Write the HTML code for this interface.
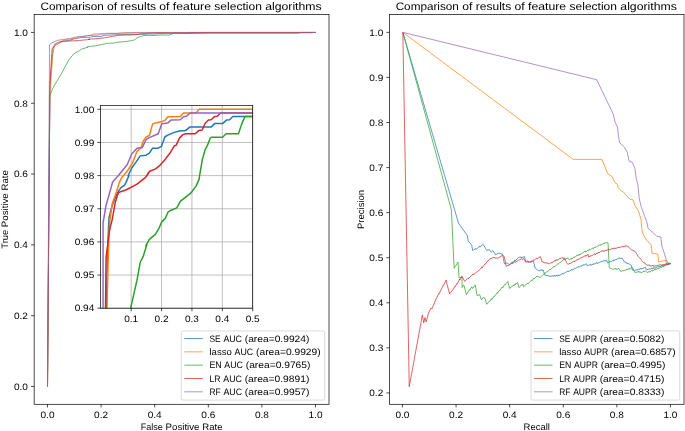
<!DOCTYPE html>
<html><head><meta charset="utf-8"><title>Comparison of results of feature selection algorithms</title>
<style>html,body{margin:0;padding:0;background:#fff}svg{display:block;will-change:transform}text{text-rendering:geometricPrecision;font-family:"Liberation Sans",sans-serif;fill:#000}</style></head><body>
<svg width="685" height="431" viewBox="0 0 685 431">
<rect x="0" y="0" width="685" height="431" fill="#fff"/>
<defs><clipPath id="ci"><rect x="100.50" y="105.60" width="152.20" height="202.60"/></clipPath></defs>
<path d="M47.50 386.50 L49.91 85.56 L52.62 53.60 L53.24 48.26 L54.49 44.57 L54.80 44.00 L57.61 42.69 L60.73 41.76 L63.07 41.19 L65.41 40.82 L68.53 40.54 L69.77 40.26 L72.42 39.51 L71.64 39.52 L74.76 38.72 L78.66 38.06 L82.25 37.42 L87.55 37.35 L90.36 37.12 L93.17 36.60 L98.16 36.60 L100.97 36.41 L104.08 35.38 L107.52 35.16 L112.19 34.91 L116.87 34.76 L122.33 34.73 L125.92 34.35 L144.79 34.35 L147.91 33.98 L154.93 33.98 L158.36 33.60 L161.17 33.56 L163.97 33.23 L181.44 33.23 L194.90 33.23 L208.30 32.45 L315.50 32.45" fill="none" stroke="#1f77b4" stroke-width="0.90" stroke-opacity="0.80" stroke-linejoin="round"/>
<path d="M47.50 386.50 L49.91 92.64 L52.93 53.60 L54.49 46.39 L55.27 44.57 L57.61 42.51 L61.51 41.19 L63.85 40.26 L66.19 39.70 L70.09 39.17 L71.64 38.90 L75.54 38.15 L79.44 36.94 L82.87 36.60 L84.90 35.85 L87.55 35.40 L90.36 35.25 L93.17 34.03 L95.82 33.90 L100.97 33.79 L104.40 33.60 L106.74 33.25 L110.63 33.25 L117.65 33.23 L120.46 32.85 L124.67 32.85 L131.69 32.82 L134.34 32.44 L181.44 32.44 L315.50 32.45" fill="none" stroke="#ff7f0e" stroke-width="0.90" stroke-opacity="0.80" stroke-linejoin="round"/>
<path d="M47.50 386.50 L49.70 96.18 L52.86 88.04 L61.70 73.17 L68.78 59.85 L73.98 53.60 L79.44 50.70 L82.25 48.79 L84.90 48.17 L88.02 46.95 L87.24 47.02 L90.36 46.35 L95.82 45.78 L98.94 45.13 L101.28 44.47 L104.40 44.10 L106.74 43.44 L109.08 43.26 L114.53 42.97 L117.65 42.28 L127.01 41.38 L131.69 40.63 L134.34 39.88 L134.65 39.52 L136.99 37.87 L139.33 36.84 L141.67 36.28 L144.01 35.53 L145.10 35.44 L154.93 35.44 L158.05 35.06 L168.96 35.06 L171.77 34.03 L174.73 33.23 L181.44 33.23 L298.08 33.23 L300.76 32.45 L315.50 32.45" fill="none" stroke="#2ca02c" stroke-width="0.90" stroke-opacity="0.80" stroke-linejoin="round"/>
<path d="M47.50 386.50 L49.91 85.56 L51.68 53.60 L52.15 48.26 L54.18 46.39 L55.27 45.32 L57.61 44.19 L60.42 42.32 L63.07 41.34 L70.09 41.04 L79.44 40.45 L87.24 39.70 L90.05 39.17 L88.02 39.52 L90.36 39.09 L95.82 38.81 L99.72 38.44 L104.40 37.78 L109.08 37.03 L112.19 36.37 L114.07 36.28 L116.87 35.53 L119.99 35.16 L122.33 35.06 L130.75 35.06 L133.87 34.73 L136.99 34.65 L139.64 33.94 L142.45 33.60 L144.79 33.56 L147.91 33.23 L150.25 33.19 L153.06 32.85 L181.44 32.85 L186.86 32.84 L189.54 32.45 L315.50 32.45" fill="none" stroke="#d62728" stroke-width="0.90" stroke-opacity="0.80" stroke-linejoin="round"/>
<path d="M47.50 386.50 L49.50 53.60 L49.50 44.57 L52.15 42.69 L55.27 41.38 L57.92 40.22 L63.07 39.52 L70.87 38.34 L74.76 37.22 L79.44 36.60 L84.12 36.52 L87.55 35.66 L90.36 35.48 L98.16 35.06 L101.28 34.00 L106.74 33.90 L109.39 33.60 L117.65 33.56 L120.46 33.25 L123.11 33.19 L126.23 32.85 L181.44 32.85 L311.48 32.84 L312.82 32.45 L315.50 32.45" fill="none" stroke="#9467bd" stroke-width="0.90" stroke-opacity="0.80" stroke-linejoin="round"/>
<rect x="34.15" y="14.60" width="294.85" height="389.70" fill="none" stroke="#000" stroke-width="0.70"/>
<line x1="47.50" y1="404.30" x2="47.50" y2="407.40" stroke="#000" stroke-width="0.7"/>
<text y="418.20" font-size="9.30"><tspan x="40.50" textLength="14.00" lengthAdjust="spacingAndGlyphs">0.0</tspan></text>
<line x1="101.10" y1="404.30" x2="101.10" y2="407.40" stroke="#000" stroke-width="0.7"/>
<text y="418.20" font-size="9.30"><tspan x="94.10" textLength="14.00" lengthAdjust="spacingAndGlyphs">0.2</tspan></text>
<line x1="154.70" y1="404.30" x2="154.70" y2="407.40" stroke="#000" stroke-width="0.7"/>
<text y="418.20" font-size="9.30"><tspan x="147.70" textLength="14.00" lengthAdjust="spacingAndGlyphs">0.4</tspan></text>
<line x1="208.30" y1="404.30" x2="208.30" y2="407.40" stroke="#000" stroke-width="0.7"/>
<text y="418.20" font-size="9.30"><tspan x="201.30" textLength="14.00" lengthAdjust="spacingAndGlyphs">0.6</tspan></text>
<line x1="261.90" y1="404.30" x2="261.90" y2="407.40" stroke="#000" stroke-width="0.7"/>
<text y="418.20" font-size="9.30"><tspan x="254.90" textLength="14.00" lengthAdjust="spacingAndGlyphs">0.8</tspan></text>
<line x1="315.50" y1="404.30" x2="315.50" y2="407.40" stroke="#000" stroke-width="0.7"/>
<text y="418.20" font-size="9.30"><tspan x="308.50" textLength="14.00" lengthAdjust="spacingAndGlyphs">1.0</tspan></text>
<line x1="31.05" y1="386.50" x2="34.15" y2="386.50" stroke="#000" stroke-width="0.7"/>
<text y="389.75" font-size="9.30"><tspan x="13.95" textLength="14.00" lengthAdjust="spacingAndGlyphs">0.0</tspan></text>
<line x1="31.05" y1="315.69" x2="34.15" y2="315.69" stroke="#000" stroke-width="0.7"/>
<text y="318.94" font-size="9.30"><tspan x="13.95" textLength="14.00" lengthAdjust="spacingAndGlyphs">0.2</tspan></text>
<line x1="31.05" y1="244.88" x2="34.15" y2="244.88" stroke="#000" stroke-width="0.7"/>
<text y="248.13" font-size="9.30"><tspan x="13.95" textLength="14.00" lengthAdjust="spacingAndGlyphs">0.4</tspan></text>
<line x1="31.05" y1="174.07" x2="34.15" y2="174.07" stroke="#000" stroke-width="0.7"/>
<text y="177.32" font-size="9.30"><tspan x="13.95" textLength="14.00" lengthAdjust="spacingAndGlyphs">0.6</tspan></text>
<line x1="31.05" y1="103.26" x2="34.15" y2="103.26" stroke="#000" stroke-width="0.7"/>
<text y="106.51" font-size="9.30"><tspan x="13.95" textLength="14.00" lengthAdjust="spacingAndGlyphs">0.8</tspan></text>
<line x1="31.05" y1="32.45" x2="34.15" y2="32.45" stroke="#000" stroke-width="0.7"/>
<text y="35.70" font-size="9.30"><tspan x="13.95" textLength="14.00" lengthAdjust="spacingAndGlyphs">1.0</tspan></text>
<text y="9.50" font-size="10.90"><tspan x="40.50" textLength="63.23" lengthAdjust="spacingAndGlyphs">Comparison</tspan> <tspan x="107.08" textLength="10.18" lengthAdjust="spacingAndGlyphs">of</tspan> <tspan x="120.62" textLength="35.38" lengthAdjust="spacingAndGlyphs">results</tspan> <tspan x="159.35" textLength="10.18" lengthAdjust="spacingAndGlyphs">of</tspan> <tspan x="172.88" textLength="38.13" lengthAdjust="spacingAndGlyphs">feature</tspan> <tspan x="214.37" textLength="47.46" lengthAdjust="spacingAndGlyphs">selection</tspan> <tspan x="265.19" textLength="56.47" lengthAdjust="spacingAndGlyphs">algorithms</tspan></text>
<text y="430.00" font-size="9.30"><tspan x="140.68" textLength="22.09" lengthAdjust="spacingAndGlyphs">False</tspan> <tspan x="165.57" textLength="33.92" lengthAdjust="spacingAndGlyphs">Positive</tspan> <tspan x="202.29" textLength="20.18" lengthAdjust="spacingAndGlyphs">Rate</tspan></text>
<text y="209.45" font-size="9.30" transform="rotate(-90 8.10 209.45)"><tspan x="-31.09" textLength="18.69" lengthAdjust="spacingAndGlyphs">True</tspan> <tspan x="-9.61" textLength="33.92" lengthAdjust="spacingAndGlyphs">Positive</tspan> <tspan x="27.12" textLength="20.18" lengthAdjust="spacingAndGlyphs">Rate</tspan></text>
<rect x="100.50" y="105.60" width="152.20" height="202.60" fill="#fff"/>
<line x1="131.18" y1="105.60" x2="131.18" y2="308.20" stroke="#b0b0b0" stroke-width="0.8"/>
<line x1="161.55" y1="105.60" x2="161.55" y2="308.20" stroke="#b0b0b0" stroke-width="0.8"/>
<line x1="191.93" y1="105.60" x2="191.93" y2="308.20" stroke="#b0b0b0" stroke-width="0.8"/>
<line x1="222.30" y1="105.60" x2="222.30" y2="308.20" stroke="#b0b0b0" stroke-width="0.8"/>
<line x1="252.68" y1="105.60" x2="252.68" y2="308.20" stroke="#b0b0b0" stroke-width="0.8"/>
<line x1="100.50" y1="109.30" x2="252.70" y2="109.30" stroke="#b0b0b0" stroke-width="0.8"/>
<line x1="100.50" y1="142.45" x2="252.70" y2="142.45" stroke="#b0b0b0" stroke-width="0.8"/>
<line x1="100.50" y1="175.60" x2="252.70" y2="175.60" stroke="#b0b0b0" stroke-width="0.8"/>
<line x1="100.50" y1="208.75" x2="252.70" y2="208.75" stroke="#b0b0b0" stroke-width="0.8"/>
<line x1="100.50" y1="241.90" x2="252.70" y2="241.90" stroke="#b0b0b0" stroke-width="0.8"/>
<line x1="100.50" y1="275.05" x2="252.70" y2="275.05" stroke="#b0b0b0" stroke-width="0.8"/>
<line x1="100.50" y1="308.20" x2="252.70" y2="308.20" stroke="#b0b0b0" stroke-width="0.8"/>
<g clip-path="url(#ci)">
<path d="M100.80 3424.30 L103.53 606.55 L106.60 307.35 L107.31 257.35 L108.72 222.75 L109.08 217.49 L112.26 205.21 L115.79 196.44 L118.44 191.17 L121.10 187.67 L124.63 185.04 L126.04 182.40 L129.05 175.39 L128.17 175.52 L131.70 167.98 L136.12 161.84 L140.19 155.87 L146.20 155.17 L149.38 153.07 L152.56 148.15 L158.22 148.15 L161.40 146.40 L164.93 136.75 L168.82 134.65 L174.12 132.37 L179.43 130.96 L185.61 130.61 L189.68 127.10 L211.07 127.10 L214.60 123.60 L222.56 123.60 L226.45 120.09 L229.63 119.74 L232.81 116.58 L252.61 116.58 L267.86 116.59 L283.05 109.30 L404.55 109.30" fill="none" stroke="#1f77b4" stroke-width="1.5" stroke-linejoin="round"/>
<path d="M100.80 3424.30 L103.53 672.85 L106.95 307.35 L108.72 239.81 L109.61 222.75 L112.26 203.45 L116.68 191.17 L119.33 182.40 L121.98 177.14 L126.40 172.23 L128.17 169.73 L132.58 162.71 L137.00 151.31 L140.89 148.15 L143.19 141.14 L146.20 136.93 L149.38 135.52 L152.56 124.12 L155.56 122.89 L161.40 121.84 L165.29 120.09 L167.94 116.75 L172.36 116.75 L180.31 116.58 L183.49 113.07 L188.27 113.07 L196.22 112.72 L199.23 109.21 L252.61 109.21 L404.55 109.30" fill="none" stroke="#ff7f0e" stroke-width="1.5" stroke-linejoin="round"/>
<path d="M100.80 3424.30 L103.29 706.00 L106.88 629.75 L116.90 490.52 L124.92 365.88 L130.82 307.35 L137.00 280.16 L140.19 262.26 L143.19 256.47 L146.73 245.07 L145.84 245.73 L149.38 239.41 L155.56 234.15 L159.10 228.01 L161.75 221.87 L165.29 218.36 L167.94 212.23 L170.59 210.47 L176.78 207.84 L180.31 201.35 L190.92 192.93 L196.22 185.91 L199.23 178.90 L199.58 175.52 L202.23 160.08 L204.88 150.43 L207.53 145.17 L210.18 138.15 L211.42 137.28 L222.56 137.28 L226.09 133.77 L238.47 133.77 L241.65 124.12 L245.01 116.58 L252.61 116.58 L384.81 116.59 L387.84 109.30 L404.55 109.30" fill="none" stroke="#2ca02c" stroke-width="1.5" stroke-linejoin="round"/>
<path d="M100.80 3424.30 L103.53 606.55 L105.54 307.35 L106.07 257.35 L108.37 239.81 L109.61 229.77 L112.26 219.24 L115.44 201.70 L118.44 192.58 L126.40 189.77 L137.00 184.16 L145.84 177.14 L149.02 172.23 L146.73 175.52 L149.38 171.48 L155.56 168.85 L159.98 165.34 L165.29 159.21 L170.59 152.19 L174.12 146.05 L176.25 145.17 L179.43 138.15 L182.96 134.65 L185.61 133.77 L195.16 133.77 L198.69 130.61 L202.23 129.91 L205.23 123.24 L208.42 120.09 L211.07 119.74 L214.60 116.58 L217.25 116.23 L220.44 113.07 L252.61 113.07 L258.75 112.95 L261.79 109.30 L404.55 109.30" fill="none" stroke="#d62728" stroke-width="1.5" stroke-linejoin="round"/>
<path d="M100.80 3424.30 L103.07 307.35 L103.07 222.75 L106.07 205.21 L109.61 192.93 L112.61 182.05 L118.44 175.52 L127.28 164.47 L131.70 153.94 L137.00 148.15 L142.31 147.45 L146.20 139.38 L149.38 137.63 L158.22 133.77 L161.75 123.77 L167.94 122.89 L170.94 120.09 L180.31 119.74 L183.49 116.75 L186.50 116.23 L190.03 113.07 L252.61 113.07 L399.99 112.95 L401.51 109.30 L404.55 109.30" fill="none" stroke="#9467bd" stroke-width="1.5" stroke-linejoin="round"/>
</g>
<rect x="100.50" y="105.60" width="152.20" height="202.60" fill="none" stroke="#000" stroke-width="0.70"/>
<line x1="131.18" y1="308.20" x2="131.18" y2="311.30" stroke="#000" stroke-width="0.7"/>
<text y="321.90" font-size="9.30"><tspan x="124.18" textLength="14.00" lengthAdjust="spacingAndGlyphs">0.1</tspan></text>
<line x1="161.55" y1="308.20" x2="161.55" y2="311.30" stroke="#000" stroke-width="0.7"/>
<text y="321.90" font-size="9.30"><tspan x="154.55" textLength="14.00" lengthAdjust="spacingAndGlyphs">0.2</tspan></text>
<line x1="191.93" y1="308.20" x2="191.93" y2="311.30" stroke="#000" stroke-width="0.7"/>
<text y="321.90" font-size="9.30"><tspan x="184.93" textLength="14.00" lengthAdjust="spacingAndGlyphs">0.3</tspan></text>
<line x1="222.30" y1="308.20" x2="222.30" y2="311.30" stroke="#000" stroke-width="0.7"/>
<text y="321.90" font-size="9.30"><tspan x="215.30" textLength="14.00" lengthAdjust="spacingAndGlyphs">0.4</tspan></text>
<line x1="252.68" y1="308.20" x2="252.68" y2="311.30" stroke="#000" stroke-width="0.7"/>
<text y="321.90" font-size="9.30"><tspan x="245.68" textLength="14.00" lengthAdjust="spacingAndGlyphs">0.5</tspan></text>
<line x1="97.40" y1="109.30" x2="100.50" y2="109.30" stroke="#000" stroke-width="0.7"/>
<text y="112.55" font-size="9.30"><tspan x="74.71" textLength="19.59" lengthAdjust="spacingAndGlyphs">1.00</tspan></text>
<line x1="97.40" y1="142.45" x2="100.50" y2="142.45" stroke="#000" stroke-width="0.7"/>
<text y="145.70" font-size="9.30"><tspan x="74.71" textLength="19.59" lengthAdjust="spacingAndGlyphs">0.99</tspan></text>
<line x1="97.40" y1="175.60" x2="100.50" y2="175.60" stroke="#000" stroke-width="0.7"/>
<text y="178.85" font-size="9.30"><tspan x="74.71" textLength="19.59" lengthAdjust="spacingAndGlyphs">0.98</tspan></text>
<line x1="97.40" y1="208.75" x2="100.50" y2="208.75" stroke="#000" stroke-width="0.7"/>
<text y="212.00" font-size="9.30"><tspan x="74.71" textLength="19.59" lengthAdjust="spacingAndGlyphs">0.97</tspan></text>
<line x1="97.40" y1="241.90" x2="100.50" y2="241.90" stroke="#000" stroke-width="0.7"/>
<text y="245.15" font-size="9.30"><tspan x="74.71" textLength="19.59" lengthAdjust="spacingAndGlyphs">0.96</tspan></text>
<line x1="97.40" y1="275.05" x2="100.50" y2="275.05" stroke="#000" stroke-width="0.7"/>
<text y="278.30" font-size="9.30"><tspan x="74.71" textLength="19.59" lengthAdjust="spacingAndGlyphs">0.95</tspan></text>
<line x1="97.40" y1="308.20" x2="100.50" y2="308.20" stroke="#000" stroke-width="0.7"/>
<text y="311.45" font-size="9.30"><tspan x="74.71" textLength="19.59" lengthAdjust="spacingAndGlyphs">0.94</tspan></text>
<path d="M402.84 32.35 L458.52 223.21 L467.33 235.54 L468.21 240.83 L471.73 245.23 L472.61 250.52 L475.67 248.56 L475.82 249.52 L477.90 247.88 L479.66 246.31 L479.81 247.19 L483.19 244.35 L485.37 247.94 L485.52 248.45 L486.71 250.52 L489.35 249.64 L491.11 252.28 L492.88 250.52 L495.52 254.93 L498.16 253.16 L500.27 253.28 L500.42 253.96 L502.57 254.04 L504.33 263.74 L506.97 262.86 L509.62 264.62 L512.38 261.93 L512.53 263.00 L514.97 259.89 L515.12 260.88 L518.43 257.57 L520.72 256.88 L520.87 257.68 L524.60 256.69 L525.48 261.09 L528.09 261.07 L528.24 261.95 L531.64 261.97 L533.41 261.09 L535.17 268.14 L538.69 270.78 L541.94 269.78 L542.09 270.57 L543.10 269.90 L544.86 275.19 L548.06 275.49 L548.21 276.05 L551.03 276.25 L553.44 275.68 L553.59 276.29 L555.07 275.35 L555.22 276.27 L557.04 275.07 L557.19 276.08 L558.80 274.85 L558.95 275.88 L559.84 275.19 L562.98 273.34 L563.13 274.08 L565.30 272.55 L568.29 270.98 L568.44 271.70 L571.99 269.42 L572.14 270.17 L574.60 268.45 L574.75 268.95 L575.87 268.14 L579.11 266.53 L579.26 267.11 L581.26 265.64 L581.41 266.21 L583.59 264.56 L583.74 265.37 L586.45 263.74 L587.33 265.85 L590.71 264.37 L590.86 265.46 L593.33 263.79 L593.48 264.46 L597.03 262.59 L597.18 263.52 L600.54 261.97 L604.66 260.46 L604.81 261.21 L606.71 260.21 L607.59 262.86 L610.72 261.24 L610.87 261.93 L613.50 259.92 L613.65 260.97 L615.77 259.25 L615.92 259.69 L618.16 258.45 L619.97 257.93 L620.12 258.72 L622.04 258.10 L624.33 261.97 L626.31 262.40 L626.46 263.22 L628.74 263.74 L631.38 265.50 L632.26 269.90 L634.90 270.43 L636.53 269.74 L636.68 270.20 L639.15 268.85 L639.30 269.53 L641.01 268.28 L641.16 268.99 L645.48 267.26 L646.36 269.90 L649.95 268.74 L650.10 269.20 L652.52 267.83 L652.67 268.79 L654.24 267.47 L654.39 268.21 L658.24 266.51 L658.39 267.02 L659.85 266.08 L660.00 266.59 L662.66 265.30 L662.81 265.89 L666.56 264.30 L666.71 264.80 L670.60 263.45" fill="none" stroke="#1f77b4" stroke-width="0.90" stroke-opacity="0.80" stroke-linejoin="round"/>
<path d="M402.84 32.35 L573.23 159.37 L601.95 159.37 L607.59 173.47 L612.52 177.00 L614.64 182.28 L617.28 184.04 L618.16 187.57 L621.34 191.09 L623.45 191.97 L626.97 196.38 L630.50 199.37 L633.14 199.90 L634.90 205.59 L638.43 210.87 L641.07 219.68 L641.95 230.26 L643.71 235.54 L646.71 240.48 L651.11 244.35 L652.00 253.16 L657.81 254.04 L658.69 261.97 L665.74 260.21 L666.09 263.38 L670.60 263.45" fill="none" stroke="#ff7f0e" stroke-width="0.90" stroke-opacity="0.80" stroke-linejoin="round"/>
<path d="M402.84 32.35 L451.38 209.68 L454.11 268.23 L457.99 262.06 L459.04 277.92 L462.04 277.04 L462.04 287.61 L463.80 284.97 L466.45 294.66 L469.74 289.50 L469.89 290.00 L471.73 286.73 L472.61 288.49 L475.26 284.97 L477.02 295.54 L479.66 294.66 L481.42 299.95 L483.19 297.30 L484.95 298.19 L486.71 304.35 L489.51 301.08 L489.66 301.62 L491.69 298.47 L491.84 299.55 L494.29 295.93 L494.44 296.41 L497.40 292.40 L497.55 293.23 L499.41 290.28 L499.56 290.97 L502.43 286.88 L502.58 287.87 L504.87 284.43 L505.02 284.99 L507.86 281.45 L509.62 288.49 L513.44 285.09 L513.59 286.05 L515.35 283.58 L515.50 284.58 L517.55 282.33 L518.96 287.61 L521.76 284.83 L521.91 285.35 L522.83 284.09 L523.71 286.73 L527.72 283.12 L527.87 284.02 L531.83 279.78 L531.98 280.79 L533.77 278.45 L533.92 278.98 L536.93 276.16 L540.45 277.57 L543.10 274.40 L545.16 272.58 L545.31 273.37 L547.67 270.93 L547.82 271.47 L550.01 269.14 L550.16 269.97 L554.01 266.28 L554.16 267.19 L557.80 263.82 L557.95 264.25 L560.39 261.99 L560.54 262.43 L564.08 259.11 L564.23 260.15 L565.21 258.78 L567.86 258.25 L569.62 259.66 L571.58 258.18 L571.73 259.14 L574.15 256.83 L574.30 257.75 L577.39 255.04 L577.54 256.09 L579.35 253.98 L579.50 255.07 L582.83 252.61 L585.35 251.09 L585.50 252.03 L587.95 250.19 L588.10 250.59 L589.68 249.13 L589.83 250.21 L592.87 247.87 L593.02 248.65 L595.35 246.86 L595.50 247.47 L596.93 246.45 L600.49 244.55 L600.64 245.29 L604.27 242.81 L604.42 243.71 L605.74 242.57 L608.03 242.92 L609.26 267.59 L612.79 269.35 L616.01 268.48 L616.16 269.40 L618.96 268.47 L620.72 271.47 L623.47 270.39 L623.62 270.87 L627.30 269.19 L627.45 269.69 L629.26 268.34 L629.41 269.37 L631.38 268.14 L632.26 267.26 L634.90 272.55 L638.97 271.54 L639.12 272.27 L640.19 271.67 L641.07 272.90 L643.91 271.22 L644.06 271.92 L645.48 270.78 L647.24 272.55 L649.16 271.41 L649.31 272.27 L652.18 270.23 L652.33 271.10 L655.48 268.90 L655.63 269.87 L658.22 267.83 L658.37 268.81 L661.11 266.80 L661.26 267.57 L663.11 265.92 L663.26 266.91 L665.23 265.29 L665.38 265.85 L668.30 264.05 L668.45 264.70 L670.60 263.45" fill="none" stroke="#2ca02c" stroke-width="0.90" stroke-opacity="0.80" stroke-linejoin="round"/>
<path d="M402.84 32.35 L409.26 386.69 L421.42 320.21 L422.30 314.93 L423.71 322.86 L424.95 317.57 L426.18 321.97 L428.47 313.16 L431.11 307.88 L432.00 308.76 L436.40 298.19 L439.08 293.09 L439.23 293.51 L441.69 288.49 L443.42 284.94 L443.57 285.45 L446.09 280.04 L446.97 284.09 L449.62 293.78 L453.14 289.37 L454.99 286.42 L455.14 286.83 L456.82 283.62 L456.97 284.15 L459.72 279.04 L459.87 280.08 L461.95 276.16 L464.60 281.45 L468.26 277.93 L468.41 278.61 L471.64 275.28 L473.34 273.94 L473.49 274.66 L476.05 272.63 L480.45 269.11 L482.16 266.79 L482.31 267.78 L485.19 263.69 L485.34 264.17 L487.38 261.32 L487.53 261.73 L489.35 259.33 L491.33 258.13 L491.48 258.60 L492.88 257.57 L494.53 257.45 L494.68 258.09 L498.16 258.10 L502.57 255.28 L504.33 256.69 L506.09 266.38 L508.44 265.03 L508.59 265.43 L512.09 262.95 L512.24 263.91 L515.14 261.43 L515.29 262.37 L518.43 260.21 L521.98 258.70 L522.13 259.43 L523.71 258.45 L525.48 261.97 L529.88 261.97 L531.52 260.84 L531.67 261.54 L533.61 259.88 L533.76 260.39 L536.93 258.02 L537.08 258.98 L539.45 256.90 L539.60 257.54 L540.45 256.69 L542.22 261.97 L544.09 262.14 L544.24 262.81 L547.93 263.03 L548.08 263.86 L549.26 263.74 L551.45 262.44 L551.60 262.89 L555.44 260.19 L555.59 261.21 L557.07 259.38 L557.22 260.38 L559.84 258.45 L563.31 257.65 L563.46 258.48 L564.33 257.90 L566.97 263.19 L567.86 264.42 L570.34 263.00 L570.49 263.42 L574.13 260.89 L574.28 261.83 L577.48 259.37 L577.63 259.99 L581.47 257.37 L581.62 258.03 L583.40 256.48 L583.55 257.00 L585.41 255.22 L585.56 256.32 L588.12 254.37 L588.47 257.02 L591.30 255.57 L591.45 256.02 L595.03 253.68 L595.18 254.67 L597.32 252.81 L597.47 253.49 L599.00 252.04 L599.15 252.77 L600.45 251.73 L603.36 250.55 L603.51 251.56 L606.21 250.01 L606.36 250.63 L608.87 249.25 L609.02 250.09 L611.03 249.09 L613.22 248.29 L613.37 249.05 L615.10 247.85 L615.25 248.72 L618.79 247.10 L618.94 247.92 L622.82 246.29 L622.97 247.04 L625.76 245.71 L625.91 246.40 L626.97 245.76 L629.26 247.59 L629.41 248.00 L631.38 249.64 L634.67 251.35 L634.82 251.94 L635.78 252.28 L638.43 256.69 L641.15 259.48 L641.30 260.53 L642.83 261.97 L645.19 263.34 L645.34 264.08 L647.24 265.15 L649.72 265.14 L649.87 266.03 L651.64 265.85 L653.25 265.26 L653.40 266.34 L656.93 265.50 L660.86 264.68 L661.01 265.19 L664.34 264.15 L664.49 264.68 L666.78 263.61 L666.93 264.52 L668.94 263.31 L669.09 264.17 L670.60 263.45" fill="none" stroke="#d62728" stroke-width="0.90" stroke-opacity="0.80" stroke-linejoin="round"/>
<path d="M402.84 32.35 L596.67 79.68 L613.23 114.04 L614.99 121.97 L617.46 126.91 L618.52 136.25 L619.57 142.63 L624.33 147.04 L627.33 152.33 L629.09 161.14 L632.26 162.37 L634.90 168.19 L636.14 177.88 L637.90 184.93 L639.31 199.02 L641.42 207.35 L644.60 216.16 L646.71 221.45 L648.12 228.49 L653.41 232.90 L656.93 236.42 L660.81 236.95 L661.86 246.11 L663.98 252.28 L666.09 259.33 L667.50 262.86 L670.60 263.45" fill="none" stroke="#9467bd" stroke-width="0.90" stroke-opacity="0.80" stroke-linejoin="round"/>
<rect x="389.45" y="14.60" width="294.55" height="389.70" fill="none" stroke="#000" stroke-width="0.70"/>
<line x1="402.45" y1="404.30" x2="402.45" y2="407.40" stroke="#000" stroke-width="0.7"/>
<text y="418.20" font-size="9.30"><tspan x="395.45" textLength="14.00" lengthAdjust="spacingAndGlyphs">0.0</tspan></text>
<line x1="456.05" y1="404.30" x2="456.05" y2="407.40" stroke="#000" stroke-width="0.7"/>
<text y="418.20" font-size="9.30"><tspan x="449.05" textLength="14.00" lengthAdjust="spacingAndGlyphs">0.2</tspan></text>
<line x1="509.65" y1="404.30" x2="509.65" y2="407.40" stroke="#000" stroke-width="0.7"/>
<text y="418.20" font-size="9.30"><tspan x="502.65" textLength="14.00" lengthAdjust="spacingAndGlyphs">0.4</tspan></text>
<line x1="563.25" y1="404.30" x2="563.25" y2="407.40" stroke="#000" stroke-width="0.7"/>
<text y="418.20" font-size="9.30"><tspan x="556.25" textLength="14.00" lengthAdjust="spacingAndGlyphs">0.6</tspan></text>
<line x1="616.85" y1="404.30" x2="616.85" y2="407.40" stroke="#000" stroke-width="0.7"/>
<text y="418.20" font-size="9.30"><tspan x="609.85" textLength="14.00" lengthAdjust="spacingAndGlyphs">0.8</tspan></text>
<line x1="670.45" y1="404.30" x2="670.45" y2="407.40" stroke="#000" stroke-width="0.7"/>
<text y="418.20" font-size="9.30"><tspan x="663.45" textLength="14.00" lengthAdjust="spacingAndGlyphs">1.0</tspan></text>
<line x1="386.35" y1="392.95" x2="389.45" y2="392.95" stroke="#000" stroke-width="0.7"/>
<text y="396.20" font-size="9.30"><tspan x="369.25" textLength="14.00" lengthAdjust="spacingAndGlyphs">0.2</tspan></text>
<line x1="386.35" y1="347.88" x2="389.45" y2="347.88" stroke="#000" stroke-width="0.7"/>
<text y="351.12" font-size="9.30"><tspan x="369.25" textLength="14.00" lengthAdjust="spacingAndGlyphs">0.3</tspan></text>
<line x1="386.35" y1="302.80" x2="389.45" y2="302.80" stroke="#000" stroke-width="0.7"/>
<text y="306.05" font-size="9.30"><tspan x="369.25" textLength="14.00" lengthAdjust="spacingAndGlyphs">0.4</tspan></text>
<line x1="386.35" y1="257.73" x2="389.45" y2="257.73" stroke="#000" stroke-width="0.7"/>
<text y="260.98" font-size="9.30"><tspan x="369.25" textLength="14.00" lengthAdjust="spacingAndGlyphs">0.5</tspan></text>
<line x1="386.35" y1="212.65" x2="389.45" y2="212.65" stroke="#000" stroke-width="0.7"/>
<text y="215.90" font-size="9.30"><tspan x="369.25" textLength="14.00" lengthAdjust="spacingAndGlyphs">0.6</tspan></text>
<line x1="386.35" y1="167.58" x2="389.45" y2="167.58" stroke="#000" stroke-width="0.7"/>
<text y="170.83" font-size="9.30"><tspan x="369.25" textLength="14.00" lengthAdjust="spacingAndGlyphs">0.7</tspan></text>
<line x1="386.35" y1="122.50" x2="389.45" y2="122.50" stroke="#000" stroke-width="0.7"/>
<text y="125.75" font-size="9.30"><tspan x="369.25" textLength="14.00" lengthAdjust="spacingAndGlyphs">0.8</tspan></text>
<line x1="386.35" y1="77.42" x2="389.45" y2="77.42" stroke="#000" stroke-width="0.7"/>
<text y="80.67" font-size="9.30"><tspan x="369.25" textLength="14.00" lengthAdjust="spacingAndGlyphs">0.9</tspan></text>
<line x1="386.35" y1="32.35" x2="389.45" y2="32.35" stroke="#000" stroke-width="0.7"/>
<text y="35.60" font-size="9.30"><tspan x="369.25" textLength="14.00" lengthAdjust="spacingAndGlyphs">1.0</tspan></text>
<text y="9.50" font-size="10.90"><tspan x="395.65" textLength="63.23" lengthAdjust="spacingAndGlyphs">Comparison</tspan> <tspan x="462.23" textLength="10.18" lengthAdjust="spacingAndGlyphs">of</tspan> <tspan x="475.77" textLength="35.38" lengthAdjust="spacingAndGlyphs">results</tspan> <tspan x="514.50" textLength="10.18" lengthAdjust="spacingAndGlyphs">of</tspan> <tspan x="528.03" textLength="38.13" lengthAdjust="spacingAndGlyphs">feature</tspan> <tspan x="569.52" textLength="47.46" lengthAdjust="spacingAndGlyphs">selection</tspan> <tspan x="620.34" textLength="56.47" lengthAdjust="spacingAndGlyphs">algorithms</tspan></text>
<text y="430.00" font-size="9.30"><tspan x="523.60" textLength="26.25" lengthAdjust="spacingAndGlyphs">Recall</tspan></text>
<text y="209.45" font-size="9.30" transform="rotate(-90 364.30 209.45)"><tspan x="344.67" textLength="39.27" lengthAdjust="spacingAndGlyphs">Precision</tspan></text>
<rect x="181.27" y="330.94" width="143.43" height="69.16" rx="1.8" ry="1.8" fill="#fff" fill-opacity="0.8" stroke="#ccc" stroke-opacity="0.8" stroke-width="0.9"/>
<line x1="184.79" y1="338.50" x2="202.39" y2="338.50" stroke="#1f77b4" stroke-width="0.90" stroke-opacity="0.80" stroke-linecap="square"/>
<text y="341.75" font-size="9.30"><tspan x="209.43" textLength="11.15" lengthAdjust="spacingAndGlyphs">SE</tspan> <tspan x="223.38" textLength="18.61" lengthAdjust="spacingAndGlyphs">AUC</tspan> <tspan x="244.78" textLength="64.66" lengthAdjust="spacingAndGlyphs">(area=0.9924)</tspan></text>
<line x1="184.79" y1="351.83" x2="202.39" y2="351.83" stroke="#ff7f0e" stroke-width="0.90" stroke-opacity="0.80" stroke-linecap="square"/>
<text y="355.08" font-size="9.30"><tspan x="209.43" textLength="22.39" lengthAdjust="spacingAndGlyphs">lasso</tspan> <tspan x="234.62" textLength="18.61" lengthAdjust="spacingAndGlyphs">AUC</tspan> <tspan x="256.02" textLength="64.66" lengthAdjust="spacingAndGlyphs">(area=0.9929)</tspan></text>
<line x1="184.79" y1="365.16" x2="202.39" y2="365.16" stroke="#2ca02c" stroke-width="0.90" stroke-opacity="0.80" stroke-linecap="square"/>
<text y="368.41" font-size="9.30"><tspan x="209.43" textLength="12.14" lengthAdjust="spacingAndGlyphs">EN</tspan> <tspan x="224.37" textLength="18.61" lengthAdjust="spacingAndGlyphs">AUC</tspan> <tspan x="245.78" textLength="64.66" lengthAdjust="spacingAndGlyphs">(area=0.9765)</tspan></text>
<line x1="184.79" y1="378.49" x2="202.39" y2="378.49" stroke="#d62728" stroke-width="0.90" stroke-opacity="0.80" stroke-linecap="square"/>
<text y="381.74" font-size="9.30"><tspan x="209.43" textLength="11.02" lengthAdjust="spacingAndGlyphs">LR</tspan> <tspan x="223.25" textLength="18.61" lengthAdjust="spacingAndGlyphs">AUC</tspan> <tspan x="244.65" textLength="64.66" lengthAdjust="spacingAndGlyphs">(area=0.9891)</tspan></text>
<line x1="184.79" y1="391.82" x2="202.39" y2="391.82" stroke="#9467bd" stroke-width="0.90" stroke-opacity="0.80" stroke-linecap="square"/>
<text y="395.07" font-size="9.30"><tspan x="209.43" textLength="11.18" lengthAdjust="spacingAndGlyphs">RF</tspan> <tspan x="223.41" textLength="18.61" lengthAdjust="spacingAndGlyphs">AUC</tspan> <tspan x="244.81" textLength="64.66" lengthAdjust="spacingAndGlyphs">(area=0.9957)</tspan></text>
<rect x="531.00" y="330.94" width="148.70" height="69.16" rx="1.8" ry="1.8" fill="#fff" fill-opacity="0.8" stroke="#ccc" stroke-opacity="0.8" stroke-width="0.9"/>
<line x1="534.52" y1="338.50" x2="552.12" y2="338.50" stroke="#1f77b4" stroke-width="0.90" stroke-opacity="0.80" stroke-linecap="square"/>
<text y="341.75" font-size="9.30"><tspan x="559.16" textLength="11.15" lengthAdjust="spacingAndGlyphs">SE</tspan> <tspan x="573.10" textLength="23.88" lengthAdjust="spacingAndGlyphs">AUPR</tspan> <tspan x="599.78" textLength="64.66" lengthAdjust="spacingAndGlyphs">(area=0.5082)</tspan></text>
<line x1="534.52" y1="351.83" x2="552.12" y2="351.83" stroke="#ff7f0e" stroke-width="0.90" stroke-opacity="0.80" stroke-linecap="square"/>
<text y="355.08" font-size="9.30"><tspan x="559.16" textLength="22.39" lengthAdjust="spacingAndGlyphs">lasso</tspan> <tspan x="584.35" textLength="23.88" lengthAdjust="spacingAndGlyphs">AUPR</tspan> <tspan x="611.02" textLength="64.66" lengthAdjust="spacingAndGlyphs">(area=0.6857)</tspan></text>
<line x1="534.52" y1="365.16" x2="552.12" y2="365.16" stroke="#2ca02c" stroke-width="0.90" stroke-opacity="0.80" stroke-linecap="square"/>
<text y="368.41" font-size="9.30"><tspan x="559.16" textLength="12.14" lengthAdjust="spacingAndGlyphs">EN</tspan> <tspan x="574.10" textLength="23.88" lengthAdjust="spacingAndGlyphs">AUPR</tspan> <tspan x="600.78" textLength="64.66" lengthAdjust="spacingAndGlyphs">(area=0.4995)</tspan></text>
<line x1="534.52" y1="378.49" x2="552.12" y2="378.49" stroke="#d62728" stroke-width="0.90" stroke-opacity="0.80" stroke-linecap="square"/>
<text y="381.74" font-size="9.30"><tspan x="559.16" textLength="11.02" lengthAdjust="spacingAndGlyphs">LR</tspan> <tspan x="572.97" textLength="23.88" lengthAdjust="spacingAndGlyphs">AUPR</tspan> <tspan x="599.65" textLength="64.66" lengthAdjust="spacingAndGlyphs">(area=0.4715)</tspan></text>
<line x1="534.52" y1="391.82" x2="552.12" y2="391.82" stroke="#9467bd" stroke-width="0.90" stroke-opacity="0.80" stroke-linecap="square"/>
<text y="395.07" font-size="9.30"><tspan x="559.16" textLength="11.18" lengthAdjust="spacingAndGlyphs">RF</tspan> <tspan x="573.13" textLength="23.88" lengthAdjust="spacingAndGlyphs">AUPR</tspan> <tspan x="599.81" textLength="64.66" lengthAdjust="spacingAndGlyphs">(area=0.8333)</tspan></text>
</svg></body></html>
